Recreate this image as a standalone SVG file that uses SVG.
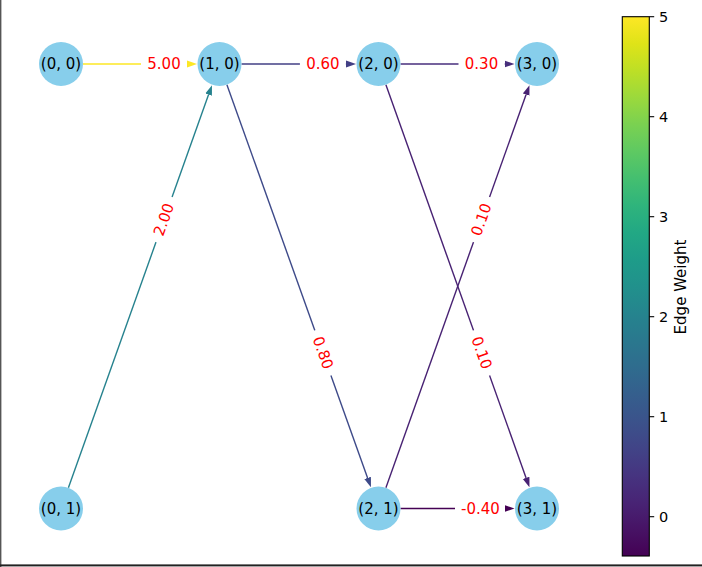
<svg xmlns="http://www.w3.org/2000/svg" width="702" height="567" viewBox="0 0 702 567">
<style>
.edge{fill:none;stroke-width:1.4}
.node circle{fill:#87ceeb}
.node text{font-family:"DejaVu Sans",sans-serif;font-size:15px;fill:#000;text-anchor:middle;dominant-baseline:central}
.lbl rect{fill:#fff;stroke:none}
.lbl text{font-family:"DejaVu Sans",sans-serif;font-size:15px;fill:#ff0000;text-anchor:middle;dominant-baseline:central}
.tick{stroke:#000;stroke-width:1.1}
.ticklbl{font-family:"DejaVu Sans",sans-serif;font-size:14.5px;fill:#000;dominant-baseline:central}
</style>
<defs>
<linearGradient id="viridis" x1="0" y1="1" x2="0" y2="0">
<stop offset="0" stop-color="#440154"/>
<stop offset="0.05" stop-color="#471365"/>
<stop offset="0.1" stop-color="#482475"/>
<stop offset="0.15" stop-color="#463480"/>
<stop offset="0.2" stop-color="#414487"/>
<stop offset="0.25" stop-color="#3b528b"/>
<stop offset="0.3" stop-color="#355f8d"/>
<stop offset="0.35" stop-color="#2f6c8e"/>
<stop offset="0.4" stop-color="#2a788e"/>
<stop offset="0.45" stop-color="#25848e"/>
<stop offset="0.5" stop-color="#21918c"/>
<stop offset="0.55" stop-color="#1e9c89"/>
<stop offset="0.6" stop-color="#22a884"/>
<stop offset="0.65" stop-color="#2fb47c"/>
<stop offset="0.7" stop-color="#44bf70"/>
<stop offset="0.75" stop-color="#5ec962"/>
<stop offset="0.8" stop-color="#7ad151"/>
<stop offset="0.85" stop-color="#9bd93c"/>
<stop offset="0.9" stop-color="#bddf26"/>
<stop offset="0.95" stop-color="#dfe318"/>
<stop offset="1" stop-color="#fde725"/>
</linearGradient>
<marker id="a500" markerUnits="userSpaceOnUse" markerWidth="10" markerHeight="8" viewBox="0 -4 10 8" refX="0" refY="0" orient="auto"><path d="M0,-3.5L10,0L0,3.5z" fill="#fde725"/></marker>
<marker id="a200" markerUnits="userSpaceOnUse" markerWidth="10" markerHeight="8" viewBox="0 -4 10 8" refX="0" refY="0" orient="auto"><path d="M0,-3.5L10,0L0,3.5z" fill="#26828e"/></marker>
<marker id="a060" markerUnits="userSpaceOnUse" markerWidth="10" markerHeight="8" viewBox="0 -4 10 8" refX="0" refY="0" orient="auto"><path d="M0,-3.5L10,0L0,3.5z" fill="#423f85"/></marker>
<marker id="a080" markerUnits="userSpaceOnUse" markerWidth="10" markerHeight="8" viewBox="0 -4 10 8" refX="0" refY="0" orient="auto"><path d="M0,-3.5L10,0L0,3.5z" fill="#3e4a89"/></marker>
<marker id="a030" markerUnits="userSpaceOnUse" markerWidth="10" markerHeight="8" viewBox="0 -4 10 8" refX="0" refY="0" orient="auto"><path d="M0,-3.5L10,0L0,3.5z" fill="#472e7c"/></marker>
<marker id="a010" markerUnits="userSpaceOnUse" markerWidth="10" markerHeight="8" viewBox="0 -4 10 8" refX="0" refY="0" orient="auto"><path d="M0,-3.5L10,0L0,3.5z" fill="#482273"/></marker>
<marker id="am040" markerUnits="userSpaceOnUse" markerWidth="10" markerHeight="8" viewBox="0 -4 10 8" refX="0" refY="0" orient="auto"><path d="M0,-3.5L10,0L0,3.5z" fill="#440154"/></marker>
</defs>
<rect x="0" y="0" width="702" height="567" fill="#fff"/>
<g id="connectors">
<path class="edge" d="M83,64L187,64" stroke="#fde725" marker-end="url(#a500)"/>
<path class="edge" d="M68.4,487.8L208.6,94.6" stroke="#26828e" marker-end="url(#a200)"/>
<path class="edge" d="M241.5,64L346,64" stroke="#423f85" marker-end="url(#a060)"/>
<path class="edge" d="M226.9,84.7L367.6,477.9" stroke="#3e4a89" marker-end="url(#a080)"/>
<path class="edge" d="M400.5,64L504.5,64" stroke="#472e7c" marker-end="url(#a030)"/>
<path class="edge" d="M385.9,84.7L526.1,477.9" stroke="#482273" marker-end="url(#a010)"/>
<path class="edge" d="M385.9,487.8L526.1,94.6" stroke="#482273" marker-end="url(#a010)"/>
<path class="edge" d="M400.5,508.5L504.5,508.5" stroke="#440154" marker-end="url(#am040)"/>
</g>
<g id="edge-labels">
<g class="lbl" transform="translate(164,64)"><rect x="-23" y="-11" width="46" height="22" rx="4"/><text x="0" y="0">5.00</text></g>
<g class="lbl" transform="translate(164,219.6) rotate(-70.37)"><rect x="-24" y="-11" width="48" height="22" rx="4"/><text x="0" y="0">2.00</text></g>
<g class="lbl" transform="translate(322.9,64)"><rect x="-23" y="-11" width="46" height="22" rx="4"/><text x="0" y="0">0.60</text></g>
<g class="lbl" transform="translate(322.9,352.9) rotate(70.32)"><rect x="-24" y="-11" width="48" height="22" rx="4"/><text x="0" y="0">0.80</text></g>
<g class="lbl" transform="translate(481.5,64)"><rect x="-23" y="-11" width="46" height="22" rx="4"/><text x="0" y="0">0.30</text></g>
<g class="lbl" transform="translate(481.5,352.9) rotate(70.37)"><rect x="-24" y="-11" width="48" height="22" rx="4"/><text x="0" y="0">0.10</text></g>
<g class="lbl" transform="translate(481.5,219.6) rotate(-70.37)"><rect x="-24" y="-11" width="48" height="22" rx="4"/><text x="0" y="0">0.10</text></g>
<g class="lbl" transform="translate(480.5,508.5)"><rect x="-25.5" y="-11" width="50" height="22" rx="4"/><text x="0" y="0">-0.40</text></g>
</g>
<g id="node-0-0" class="node"><circle cx="61" cy="64" r="22"/><text x="61" y="64">(0, 0)</text></g>
<g id="node-1-0" class="node"><circle cx="219.5" cy="64" r="22"/><text x="219.5" y="64">(1, 0)</text></g>
<g id="node-2-0" class="node"><circle cx="378.5" cy="64" r="22"/><text x="378.5" y="64">(2, 0)</text></g>
<g id="node-3-0" class="node"><circle cx="537" cy="64" r="22"/><text x="537" y="64">(3, 0)</text></g>
<g id="node-0-1" class="node"><circle cx="61" cy="508.5" r="22"/><text x="61" y="508.5">(0, 1)</text></g>
<g id="node-2-1" class="node"><circle cx="378.5" cy="508.5" r="22"/><text x="378.5" y="508.5">(2, 1)</text></g>
<g id="node-3-1" class="node"><circle cx="537" cy="508.5" r="22"/><text x="537" y="508.5">(3, 1)</text></g>
<g id="colorbar">
<rect x="622.3" y="16.7" width="27" height="539.3" fill="url(#viridis)" stroke="#000" stroke-width="1.1"/>
<line class="tick" x1="649.3" y1="516.7" x2="654.2" y2="516.7"/>
<line class="tick" x1="649.3" y1="416.7" x2="654.2" y2="416.7"/>
<line class="tick" x1="649.3" y1="316.7" x2="654.2" y2="316.7"/>
<line class="tick" x1="649.3" y1="216.7" x2="654.2" y2="216.7"/>
<line class="tick" x1="649.3" y1="116.7" x2="654.2" y2="116.7"/>
<line class="tick" x1="649.3" y1="16.7" x2="654.2" y2="16.7"/>
<text class="ticklbl" x="659" y="516.7">0</text>
<text class="ticklbl" x="659" y="416.7">1</text>
<text class="ticklbl" x="659" y="316.7">2</text>
<text class="ticklbl" x="659" y="216.7">3</text>
<text class="ticklbl" x="659" y="116.7">4</text>
<text class="ticklbl" x="659" y="16.7">5</text>
<text x="681" y="287" transform="rotate(-90 681 287)" font-family="'DejaVu Sans',sans-serif" font-size="15" text-anchor="middle" dominant-baseline="central" fill="#000">Edge Weight</text>
</g>
<g id="frame">
<rect x="0" y="0" width="1.4" height="567" fill="#555"/>
<rect x="0" y="564.4" width="702" height="2" fill="#222"/>
</g>
</svg>
